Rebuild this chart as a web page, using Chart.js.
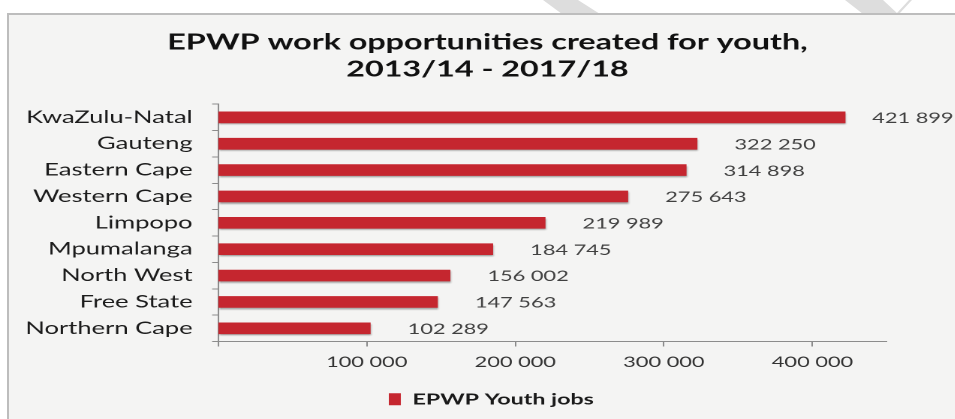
<!DOCTYPE html>
<html>
<head>
<meta charset="utf-8">
<script src="https://cdn.jsdelivr.net/npm/chart.js@4"></script>
<style>
html,body{margin:0;padding:0;background:#fff;width:955px;height:419px;overflow:hidden;position:relative;}
.stripe{position:absolute;left:0;top:0;width:955px;height:16px;background:#dddddd;}
#s1{clip-path:polygon(543px 0,578px 0,600px 14px,562px 14px);}
#s2{clip-path:polygon(845px 0,883px 0,898px 14px,863px 14px);}
#s3{clip-path:polygon(909px 0,912px 0,899px 14px,896px 14px);}
#box{position:absolute;left:7px;top:13px;width:960px;height:420px;background:#f4f4f3;border-left:2px solid #bdbdbd;border-top:2px solid #bdbdbd;}
#wrap{position:absolute;left:0;top:0;width:636.67px;height:419px;transform:scaleX(1.5);transform-origin:0 0;}
</style>
</head>
<body>
<div class="stripe" id="s1"></div>
<div class="stripe" id="s2"></div>
<div class="stripe" id="s3"></div>
<div id="box"></div>
<div id="wrap"><canvas id="c"></canvas></div>
<script>
const categories = ['KwaZulu-Natal', 'Gauteng', 'Eastern Cape', 'Western Cape', 'Limpopo', 'Mpumalanga', 'North West', 'Free State', 'Northern Cape'];
const youthJobs = [421899, 322250, 314898, 275643, 219989, 184745, 156002, 147563, 102289];
const xTickValues = [0, 100000, 200000, 300000, 400000];
const seriesName = 'EPWP Youth jobs';
const titleLines = ['EPWP work opportunities created for youth,', '2013/14 - 2017/18'];

function fmt(v) {
  return String(v).replace(/\B(?=(\d{3})+(?!\d))/g, ' ');
}

const shadowPlugin = {
  id: 'barShadow',
  beforeDatasetsDraw(chart) {
    const ctx = chart.ctx;
    ctx.save();
    ctx.shadowColor = 'rgba(0,0,0,0.35)';
    ctx.shadowBlur = 3;
    ctx.shadowOffsetX = 1;
    ctx.shadowOffsetY = 3;
  },
  afterDatasetsDraw(chart) {
    chart.ctx.restore();
  }
};

const recenter = {
  id: 'recenter',
  afterLayout(chart) {
    const move = (box, cx, dy) => {
      if (!box) return;
      const dx = cx - (box.left + box.right) / 2;
      box.left += dx;
      box.right += dx;
      box.top += dy;
      box.bottom += dy;
    };
    move(chart.titleBlock, 324.7, 0);
    move(chart.legend, 327.3, 2);
  }
};

const valueLabels = {
  id: 'valueLabels',
  afterDraw(chart) {
    const ctx = chart.ctx;
    const meta = chart.getDatasetMeta(0);
    ctx.save();
    ctx.font = '14.5px Lato';
    ctx.fillStyle = '#404040';
    ctx.textBaseline = 'middle';
    ctx.textAlign = 'left';
    meta.data.forEach((bar, i) => {
      const txt = fmt(chart.data.datasets[0].data[i]);
      const w = ctx.measureText(txt).width;
      let x = bar.x + 25;
      x = Math.min(x, chart.width - w - 1.5);
      ctx.fillText(txt, x, bar.y + 1);
    });
    ctx.restore();
  }
};

new Chart(document.getElementById('c'), {
  type: 'bar',
  data: {
    labels: categories,
    datasets: [{
      label: seriesName,
      data: youthJobs,
      backgroundColor: '#c5262f',
      borderWidth: 0,
      barThickness: 11
    }]
  },
  plugins: [shadowPlugin, recenter, valueLabels],
  options: {
    indexAxis: 'y',
    responsive: true,
    maintainAspectRatio: false,
    devicePixelRatio: 2,
    animation: false,
    layout: { padding: { left: 8, right: 46, top: 10, bottom: 4 } },
    scales: {
      x: {
        type: 'linear',
        min: 0,
        max: 450000,
        afterBuildTicks: s => { s.ticks = xTickValues.map(v => ({ value: v })); },
        afterFit: s => { s.height = 38; },
        ticks: {
          callback: v => (v === 0 ? '' : fmt(v)),
          font: { family: 'Lato', size: 14.5 },
          color: '#333333',
          padding: 7,
          maxRotation: 0
        },
        grid: { drawOnChartArea: false, drawTicks: true, tickLength: 5, color: '#8c8c8c' },
        border: { display: true, color: '#8c8c8c', width: 1 }
      },
      y: {
        type: 'category',
        afterFit: s => { s.width = 137.3; },
        ticks: {
          font: { family: 'Lato', size: 17 },
          color: '#1c1c1c',
          padding: 13
        },
        grid: { offset: true, drawOnChartArea: false, drawTicks: true, tickLength: 4, color: '#8c8c8c' },
        border: { display: true, color: '#8c8c8c', width: 1 }
      }
    },
    plugins: {
      title: {
        display: true,
        text: titleLines,
        font: { family: 'Lato', size: 21.5, weight: 'bold', lineHeight: 1.26 },
        color: '#111111',
        padding: { top: 19, bottom: 21 }
      },
      legend: {
        display: true,
        position: 'bottom',
        labels: {
          boxWidth: 8,
          boxHeight: 12,
          font: { family: 'Lato', size: 15.5, weight: 'bold' },
          color: '#1a1a1a',
          padding: 10
        }
      },
      tooltip: { enabled: false }
    }
  }
});
</script>
</body>
</html>
